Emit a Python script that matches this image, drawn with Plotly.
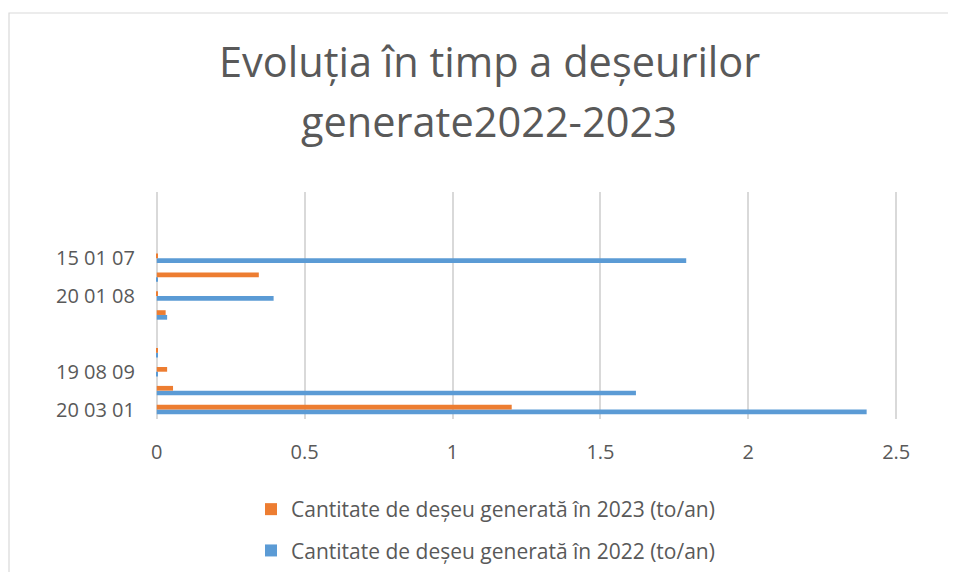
import plotly.graph_objects as go

# Categories bottom -> top (Excel shows every other label)
categories = ["20 03 01", "", "19 08 09", "", "", "", "20 01 08", "", "15 01 07", "", "", ""]
values_2022 = [2.4, 1.62, 0.003, 0.003, 0, 0.035, 0.395, 0.004, 1.79, 0, 0, 0]
values_2023 = [1.2, 0.055, 0.035, 0.001, 0, 0.03, 0.003, 0.345, 0.004, 0, 0, 0]
name_2022 = "Cantitate de deșeu generată în 2022 (to/an)"
name_2023 = "Cantitate de deșeu generată în 2023 (to/an)"
title_lines = ["Evoluția în timp a deșeurilor", "generate2022-2023"]
x_ticks = [0, 0.5, 1, 1.5, 2, 2.5]

pos = list(range(len(categories)))
shown = [i for i in pos if i % 2 == 0]

FONT = "Open Sans"
GREY = "#595959"
GRID = "#D9D9D9"

OFF = 8  # default page body margin
W, H = 956 - 2 * OFF, 580 - 2 * OFF
L, R, T, B = 155 - OFF, 898 - OFF, 192 - OFF, 419 - OFF
PW, PH = R - L, B - T


def px(x):
    return (x - OFF - L) / PW


def py(y):
    return (B - (y - OFF)) / PH


def cy(y):
    return (H - (y - OFF)) / H


fig = go.Figure()
fig.add_trace(go.Bar(
    y=pos, x=values_2022, orientation="h", name=name_2022,
    marker=dict(color="#5B9BD5", line=dict(width=0)),
    legendgroup="g2022", legendrank=2,
))
fig.add_trace(go.Bar(
    y=pos, x=values_2023, orientation="h", name=name_2023,
    marker=dict(color="#ED7D31", line=dict(width=0)),
    legendgroup="g2023", legendrank=1,
))

fig.update_layout(
    width=W, height=H, autosize=False,
    margin=dict(l=L, r=W - R, t=T, b=H - B, pad=0),
    paper_bgcolor="white", plot_bgcolor="white",
    barmode="group", bargap=0.5, bargroupgap=0,
    font=dict(family=FONT, color=GREY),
    showlegend=True,
    legend=dict(
        orientation="v", traceorder="grouped", tracegroupgap=11,
        xref="paper", x=px(251), xanchor="left",
        yref="container", y=cy(489), yanchor="top",
        font=dict(family=FONT, size=21, color=GREY),
        itemwidth=30, bgcolor="rgba(0,0,0,0)",
    ),
    xaxis=dict(
        range=[-0.006, 2.506], tickvals=x_ticks, ticktext=[f"{v:g}" for v in x_ticks],
        showgrid=True, gridcolor=GRID, gridwidth=1.5,
        zeroline=True, zerolinecolor=GRID, zerolinewidth=1.5,
        showline=False, ticks="", automargin=False,
        ticklabelstandoff=19,
        tickfont=dict(family=FONT, size=20, color=GREY),
    ),
    yaxis=dict(
        range=[-0.5, len(categories) - 0.5],
        tickvals=shown, ticktext=[categories[i] for i in shown],
        showgrid=False, zeroline=False, showline=False, ticks="", automargin=False,
        ticklabelstandoff=19,
        tickfont=dict(family=FONT, size=20, color=GREY),
    ),
    shapes=[dict(type="rect", xref="paper", yref="paper",
                 x0=px(9), x1=px(975), y0=py(600), y1=py(13),
                 line=dict(color=GRID, width=1.2), layer="below")],
    annotations=[
        dict(text=title_lines[0], xref="paper", yref="paper",
             x=px(489), y=py(61), xanchor="center", yanchor="middle",
             showarrow=False, font=dict(family=FONT, size=41.5, color=GREY)),
        dict(text=title_lines[1], xref="paper", yref="paper",
             x=px(489), y=py(121), xanchor="center", yanchor="middle",
             showarrow=False, font=dict(family=FONT, size=41.5, color=GREY)),
    ],
)

fig.write_html("out.html")
